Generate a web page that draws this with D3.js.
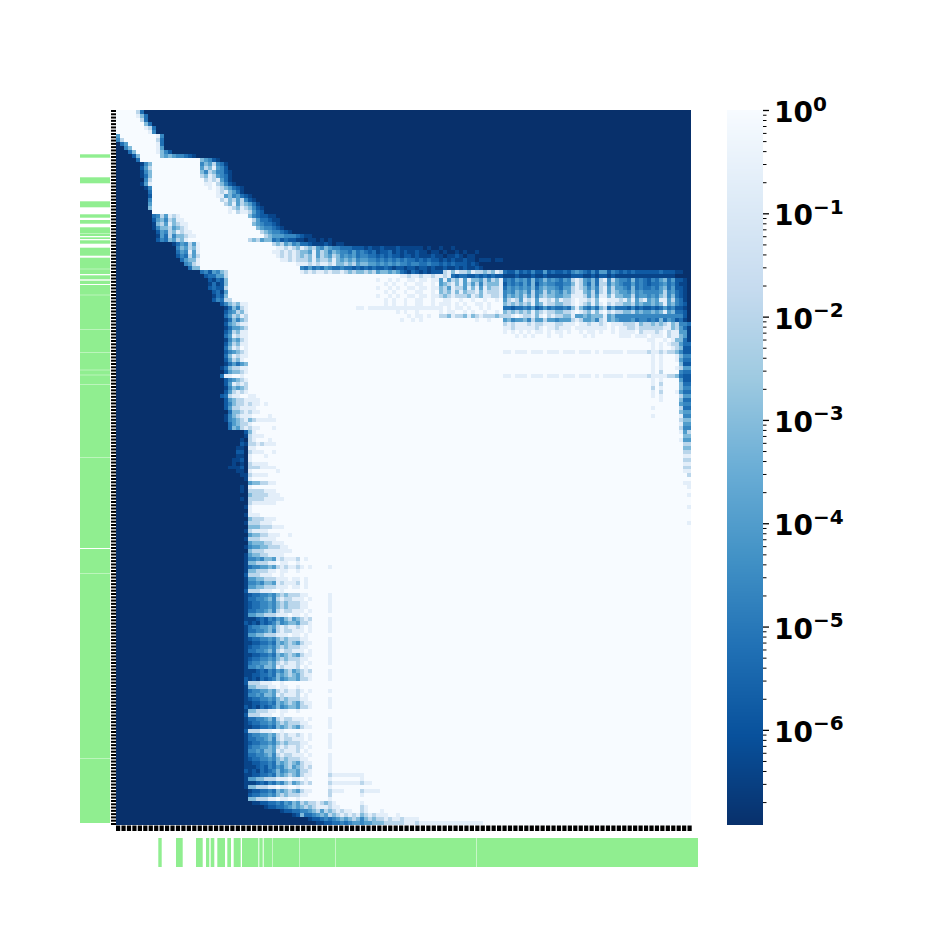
<!DOCTYPE html>
<html><head><meta charset="utf-8">
<script src="https://cdn.jsdelivr.net/npm/d3@7"></script>
<style>html,body{margin:0;padding:0;background:#fff}svg{display:block}</style></head>
<body><svg id="c" width="927" height="927"></svg>
<script>
// Levels of the matrix (values on the colour bar)
const levelValues = [1.2e-7, 4e-7, 1.5e-6, 6e-6, 2.5e-5, 1e-4, 8e-4, 1e-2, 0.2, 1];
// Recurring streak profiles of the left band, columns 33-49
const D1="0:0 32:1 33:12233436567657889 53:8 54:9", D2="0:0 32:1 33:11232435467567879 53:8 54:9", D3="0:0 32:2 33:12132346456657789 53:8 54:9";
const M1="0:0 32:1 33:34455657878878989 53:8 54:9", M2="0:0 32:1 33:33445647877888989 53:8 54:9", M3="0:0 32:1 33:44546658788879899", M4="0:0 32:1 33:23344546767778899 53:8 54:9";
const L1="0:0 32:1 33:66777889889989999", L2="0:0 32:2 33:77788899899999999", L3="0:0 32:1 33:55667778889889899";
// Matrix rows: "startColumn:levels"; gaps repeat the previous level
const matrixRows = [
"0:9 5:730","0:9 5:8630","0:9 6:730","0:9 7:630","0:9 7:8730","0:9 8:840",
"0:5 1:9 10:840","0:47 2:9 10:730","0:035 3:9 10:830","0:0046 4:9 10:850","0:00036 5:9 10:86420",
"0:0 4:26 6:9 11:6565443210","0:0 5:3 6:9 21:654210",
"0:0 6:146 9:9 21:46574310","0:0 6:257 9:9 21:57685420","0:0 6:146 9:9 21:647644210","0:0 6:136 9:9 21:768754310",
"0:0 7:47 9:9 22:78785310","0:0 6:158 9:9 22:889764210","0:0 7:14 9:9 23:8987653210","0:0 8:3 9:9 24:987865310",
"0:0 8:2 9:9 25:8856453210","0:0 8:4 9:9 26:7867574210","0:0 8:5 9:9 27:7685765310","0:0 8:6 9:9 28:8768764210",
"0:0 9:9 28:8978875320",
"0:0 9:34758789 17:9 33:64322110","0:0 9:25647688 17:9 34:75332110","0:0 9:16758678 18:9 34:65433210","0:0 9:146675678 18:9 35:65443210",
"0:0 10:25476878 19:9 36:765443210","0:0 10:153746678 20:9 37:7655544432110",
// y238
"0:0 9:024365768 18:9 33:767566342322110110101 54:0",
"0:0 14:1354758 21:9 39:7675645332 49:11121011 57:0",
"0:0 15:465768 21:9 40:887876876 49:754654433322 61:212112111211111 76:1010010010 86:0",
"0:0 15:354858 21:9 39:88787876 47:6585764654 57:435343 63:23122312121121 77:10110100101001 91:0",
"0:0 15:243757 21:9 40:8787876 47:7685765764 57:545344 63:33232322122121 77:11211011210110 91:0",
"0:0 16:35668 21:9 41:887 44:87 47:7686776865 57:656455 63:44343434343323 77:2322 81:1212112110 91:1110110 98:0",
"0:0 17:4578 21:9 45:88 47:8787887866 57:767566 63:55454545443443 77:3433232322 87:2121 91:0",
// y266 dark streak
"0:0 18:366 21:9 46:43534354334 57:332323 63:23223212212212 77:2121121121 87:21121 92:0",
// y270
"0:0 21:3425467 28:9 46:8787887877876 59:7667675665 69:65 71:3213212122 82:786877 88:687767 94:687 97:322423242252322324543 118:24255243 126:232322222 135:2322211 142:0",
"0:0 22:233557 28:9 71:8878878878878 84:3233223232322 97:1112111211211111122 116:211212212111 128:1111111111110 141:0",
// y278
"0:0 23:21326 28:9 65:8998989988988988 81:5857685866575768 97:3435453634645435478754637847544363432435635221 143:0",
"0:0 23:13126 28:9 65:9989899899889989 81:5678685757476668 97:2434353624544334468753637746543353432334534211 143:0",
"0:0 23:23227 28:9 65:8998989988988988 81:6758775868586778 97:3545454635655435578764647857554363433435635221 143:0",
"0:0 24:2315 28:9 65:9989899899889989 81:6768686778687778 97:4546564745756546578865747857655464544445745321 143:0",
"0:0 24:1326 28:9 65:8998989988988988 81:7678777687688778 97:4656575746766556688875758868665574554546746321 143:0",
// y298
"0:0 24:2437 29:9 65:9989899899889989 81:9889989989989989 97:5787587858878687789887869988878685785658857431 143:0",
"0:0 26:246 29:768 33:9 65:9989899899889989 81:8889898998898999 97:6767676856877667789876868978776675655656856432 143:0",
"0:0 27:136478 33:9 60:8898888888888888 81:8989889899898999 97:3323343523534334368643536735333242322323534221 143:0",
"0:0 27:245768 33:9 68:9989899899 81:8988998989989989 97:6767676867877667789876868978776675655656856332 143:0",
"0:0 27:357687 33:9 71:9989889899 81:7768776867877767778987786897877668556566685644 142:2 143:0",
"0:0 27:136467 33:9 71:8998989 81:9999999998998999 97:5645564755755455578755647856544453443436354231 143:0",
"0:0 27:256788 33:9 97:7878887877888778889887887898887778677676786744 142:43 144:0",
"0:0 27:135567 33:9 97:8878888878988788898888888898988778777777886754 142:3 143:1",
"0:0 27:247688 33:9 97:8989898988989889899898898998988889788878978855 143:1",
"0:0 27:358788 33:9 97:9998989899989989999989899999988898889888978865 143:1",
// y338
"0:0 27:146578 33:9 127:999999889989 139:8 140:663 143:1",
"0:0 27:257688 33:9 134:8 135:9 136:8 137:9 138:8 139:7 140:7 141:5 142:3",
"0:0 27:368798 33:9 134:8 135:9 136:8 137:9 139:8 140:7 141:6 142:2",
"0:0 27:245678 33:9 97:8898889888988898889888989888 125:889888 131:8878 135:8 136:7 137:8 138:7 139:7 140:6 141:4 142:2",
"0:0 27:368788 33:9 134:898 137:9 140:8 141:6 142:4",
"0:0 27:257689 33:9 134:8 135:9 136:8 137:9 140:8 141:5 142:3",
"0:0 27:135356 33:9 134:8 135:9 136:8 137:9 141:6 142:2",
"0:0 26:1 27:367788 33:9 134:8 135:9 136:8 137:9 140:8 141:7 142:5",
"0:0 27:256678 33:9 134:8 135:9 136:7 137:9 141:4 142:3",
// y374
"0:0 26:3 27:889989 33:9 97:8898889888988898889888989888 125:8898888878 135:8 136:8 137:8 138:7 139:7 140:6 141:3 142:2",
"0:0 27:245678 33:9 134:8 135:9 136:8 137:9 141:5 142:2",
"0:0 27:258787 33:9 134:8 135:9 136:7 137:9 141:6 142:3",
"0:0 27:146567 33:9 134:7 135:9 136:8 137:9 141:6 142:4",
"0:0 27:257878 33:9 134:8 135:9 136:7 137:9 140:8 141:5 142:3",
"0:0 26:2 27:378899 33:8 35:9 134:8 135:9 136:8 137:9 141:7 142:5",
"0:0 27:256778 33:8 36:9 134:9 136:8 137:9 141:6 142:3",
"0:0 27:246778 33:7 34:889 37:8 38:9 141:5 142:4",
"0:0 27:257788 33:8 35:9 134:8 135:9 141:7 142:3",
"0:0 27:036678 33:7 34:8 36:9 141:6 142:5",
"0:0 27:146788 33:8 34:9 38:8 39:9 134:8 135:9 141:8 142:4",
"0:0 27:145678 33:6 34:788 37:8 40:9 141:7 142:6",
"0:0 27:035677 33:8 34:9 141:8 142:5",
// y426
"0:0 27:036578 33:7 34:88 36:9 39:8 40:9 141:7 142:4",
// y430
"0:0 32:2 33:68 35:9 141:8 142:57","0:0 32:1 33:788 36:89 38:9 141:9 142:6","0:0 31:1 32:0 33:78 35:9 38:8 39:9 141:8 142:5",
"0:0 31:2 32:1 33:7787 37:8 40:9 141:9 142:7","0:0 30:1 31:1 32:0 33:88 35:9 142:6","0:0 30:2 31:2 32:0 33:7 34:8 37:9 39:8 40:9 141:9 142:7",
"0:0 30:1 32:0 33:8 34:9 37:8 38:9 142:8","0:0 29:1 31:2 32:0 33:8 34:9 142:7","0:0 29:1 30:0 31:1 32:0 33:7 34:8 38:9 142:8",
"0:0 28:1 31:2 32:0 33:7 34:7 36:8 40:9 142:7","0:0 30:1 32:0 33:8 34:9 40:8 41:9 142:8","0:0 31:1 32:1 33:7 34:8 38:9 143:7",
"0:0 32:1 33:8 34:9","0:0 32:0 33:5 34:6 36:7 38:8 40:9 142:8","0:0 31:1 32:0 33:8 34:9 143:8",
"0:0 31:1 32:0 33:7 34:7 37:8 40:9","0:0 32:0 33:6 34:7 38:8 41:9 143:8","0:0 31:1 32:0 33:7 35:7 37:8 40:8 42:9",
"0:0 32:0 33:7 34:8 38:8 40:9","0:0 32:1 33:8 34:9 143:8","0:0 32:0 33:8 34:9","0:0 32:1 33:8 34:8 36:9",
"0:0 32:0 33:6 34:7 37:8 40:9","0:0 32:1 33:7 34:7 36:8 39:9 143:8","0:0 32:0 33:6 34:6 36:7 39:8 42:9",
"0:0 32:1 33:7 34:8 38:9","0:0 32:0 33:5 34:6 36:7 38:8 41:9 43:8 44:9","0:0 32:1 33:7 34:7 36:8 40:9",
"0:0 32:0 33:5 34:6 37:7 39:8 42:9","0:0 32:1 33:4 34:5 36:6 38:7 41:8 43:9","0:0 32:0 33:6 34:7 37:8 41:8 44:9","0:0 32:1 33:5 34:6 36:7 38:8 42:9",
// y558
M3,L1,M1,L1,L2,L3,M3,L3,L2,M4,M2,M4,M4,M2,L3,D2,D3,M1,M2,L3,M4,D1,M4,M2,D1,M4,M1,M3,D2,D1,D3,L2,L1,M1,M3,M4,D1,D3,L1,L2,M2,M4,D1,L2,
// y734
M1,M2,M4,M1,M3,M2,M4,D1,D2,D3,
"0:0 32:1 33:12233436567657889 53:7 54:8 61:8 62:9",
"0:0 32:1 33:55667778889889899 53:8 54:9 61:8 62:9",
"0:0 32:1 33:11232435467567879 53:7 54:8 58:8 61:7 62:8 64:9",
"0:0 32:1 33:66777889889989999 53:8 54:9",
"0:0 33:12233436567657889 53:7 54:8 57:9 61:7 62:8 66:9",
"0:0 33:23344546767778899 53:7 54:9 61:8 62:9",
"0:0 33:66777889889989999 53:8 54:9",
// y802
"0:0 34:1 35:12233435 43:465767 49:7876 53:7 54:8 55:9 61:8 62:9",
"0:0 36:01223 41:3456 45:5676 49:78 51:8 53:7 54:8 56:9 61:7 62:8 63:9",
"0:0 40:012 43:2334 47:45 49:6757 53:6 54:787 57:8 59:9 61:7 62:8 63:9 66:8 67:9",
"0:0 43:012 46:6 47:334 50:5657 54:678 57:787 60:8 61:6 62:7 63:878 66:8 68:9 70:8 71:9",
"0:0 47:01 49:223 52:4 53:3 54:4 55:565 58:6 59:7 60:6 61:4 62:6 63:7 64:67 66:7 67:8 68:7 69:8 70:878 73:8 76:9",
"0:0 50:1 52:2 54:3 56:434 59:5 61:4 62:5 63:5 64:6 66:6 67:7 70:7 72:8 75:7 76:8 90:8 92:9"
];
// Cluster strips beside and below the matrix
const leftStrips = [[154.3,157.7],[177.3,183.3],[201.3,207.3],[214.3,217.7],[220,223.7],[227.3,233],[233.4,236],[237.3,239],[240.3,243.7],[247.7,255.7],[257.7,268.8],[269.2,274],[275.3,279.3],[280.7,284],[285,294.8],[295.2,329],[329.4,352],[352.4,369.8],[370.2,374.8],[375.2,384],[384.4,457],[457.4,548],[549,573],[573.4,758],[758.4,823]];
const bottomStrips = [[158.3,161.7],[176,182.7],[196,202.7],[206,209.3],[210.7,214.3],[217.3,225],[227.3,231],[233.7,240.7],[242,258.3],[259.3,262.7],[263.7,272.5],[273,299],[299.5,335],[335.5,476],[476.5,698]];
const blues = ["#08306b","#08519c","#2171b5","#4292c6","#6baed6","#9ecae1","#c6dbef","#deebf7","#f7fbff"];
const vmin = 1.2e-7, vmax = 1;
const majorExponents = [0,-1,-2,-3,-4,-5,-6];
const nXTicks = 106, nYTicks = 218;

const svg = d3.select("#c");
const box = {x0:116, x1:691, y0:110, y1:825};
const nCols = 144;
const matrix = matrixRows.map(r=>{
  const row = new Array(nCols).fill(0);
  let last = 0, pos = 0;
  r.split(" ").forEach(seg=>{
    const [s,d] = seg.split(":"); const start = +s;
    for(let c=pos;c<start&&c<nCols;c++) row[c]=last;
    pos = start;
    for(const ch of d){ if(pos<nCols) row[pos]=+ch; pos++; last=+ch; }
  });
  for(let c=pos;c<nCols;c++) row[c]=last;
  return row;
});
const x = d3.scaleBand().domain(d3.range(nCols)).range([box.x0,box.x1]);
const y = d3.scaleBand().domain(d3.range(matrix.length)).range([box.y0,box.y1]);
const pos = d3.scaleLog().domain([vmin,vmax]).range([0,1]);
const ramp = d3.scaleLinear().domain(blues.map((_,i)=>i/8)).range(blues).interpolate(d3.interpolateRgb).clamp(true);
const color = v=>ramp(pos(v));

const runs = [];
matrix.forEach((row,i)=>{
  let s=0;
  for(let c=1;c<=nCols;c++){
    if(c===nCols||row[c]!==row[s]){ runs.push({i,s,e:c,l:row[s]}); s=c; }
  }
});
svg.append("g").attr("shape-rendering","crispEdges").selectAll("rect").data(runs).join("rect")
  .attr("x",d=>x(d.s)).attr("width",d=>(d.e-d.s)*x.bandwidth())
  .attr("y",d=>y(d.i)).attr("height",y.bandwidth()+0.3)
  .attr("fill",d=>color(levelValues[d.l]));

// black ticks
const tx = d3.scaleLinear().domain([0,nXTicks-1]).range([118,689.5]);
const ty = d3.scaleLinear().domain([0,nYTicks-1]).range([111,824]);
svg.append("g").selectAll("rect").data(d3.range(nXTicks)).join("rect")
  .attr("x",d=>tx(d)-2).attr("width",4.2).attr("y",825.5).attr("height",5.5).attr("fill","#000");
svg.append("g").selectAll("rect").data(d3.range(nYTicks)).join("rect")
  .attr("y",d=>ty(d)-1).attr("height",2).attr("x",111).attr("width",5).attr("fill","#000");

// green strips
const green = "#90ee90";
svg.append("g").selectAll("rect").data(leftStrips).join("rect")
  .attr("x",80).attr("width",30).attr("y",d=>d[0]).attr("height",d=>d[1]-d[0]).attr("fill",green);
svg.append("g").selectAll("rect").data(bottomStrips).join("rect")
  .attr("y",838).attr("height",29).attr("x",d=>d[0]).attr("width",d=>d[1]-d[0]).attr("fill",green);

// colour bar
const cb = d3.scaleLog().domain([vmin,vmax]).range([825,110]);
svg.append("g").attr("shape-rendering","crispEdges").selectAll("rect").data(d3.range(110,825)).join("rect")
  .attr("x",727).attr("width",36).attr("y",d=>d).attr("height",1.2)
  .attr("fill",d=>color(cb.invert(d+0.5)));
const minor = [];
for(let k=-7;k<0;k++) for(let m=1;m<10;m++){ const v=m*Math.pow(10,k); if(v>=vmin&&m>1) minor.push(v); }
const axMinor = d3.axisRight(cb).tickValues(minor).tickSize(3.5).tickFormat("");
const gm = svg.append("g").attr("transform","translate(763,0)").call(axMinor);
gm.select(".domain").remove(); gm.selectAll("line").attr("stroke","#000").attr("stroke-width",1);
const majors = majorExponents.map(e=>Math.pow(10,e));
const axMajor = d3.axisRight(cb).tickValues(majors).tickSize(6).tickFormat("");
const gM = svg.append("g").attr("transform","translate(763,0)").call(axMajor);
gM.select(".domain").remove(); gM.selectAll("line").attr("stroke","#000").attr("stroke-width",1.3);
const lab = svg.append("g").selectAll("text").data(majorExponents).join("text")
  .attr("x",774).attr("y",d=>cb(Math.pow(10,d))+12)
  .attr("font-family","DejaVu Sans").attr("font-weight","bold").attr("font-size",28).attr("fill","#000");
lab.append("tspan").text("10");
lab.append("tspan").attr("dy",-11.5).attr("font-size",20).text(d=>d===0?"0":"\u2212"+(-d));
</script></body></html>
